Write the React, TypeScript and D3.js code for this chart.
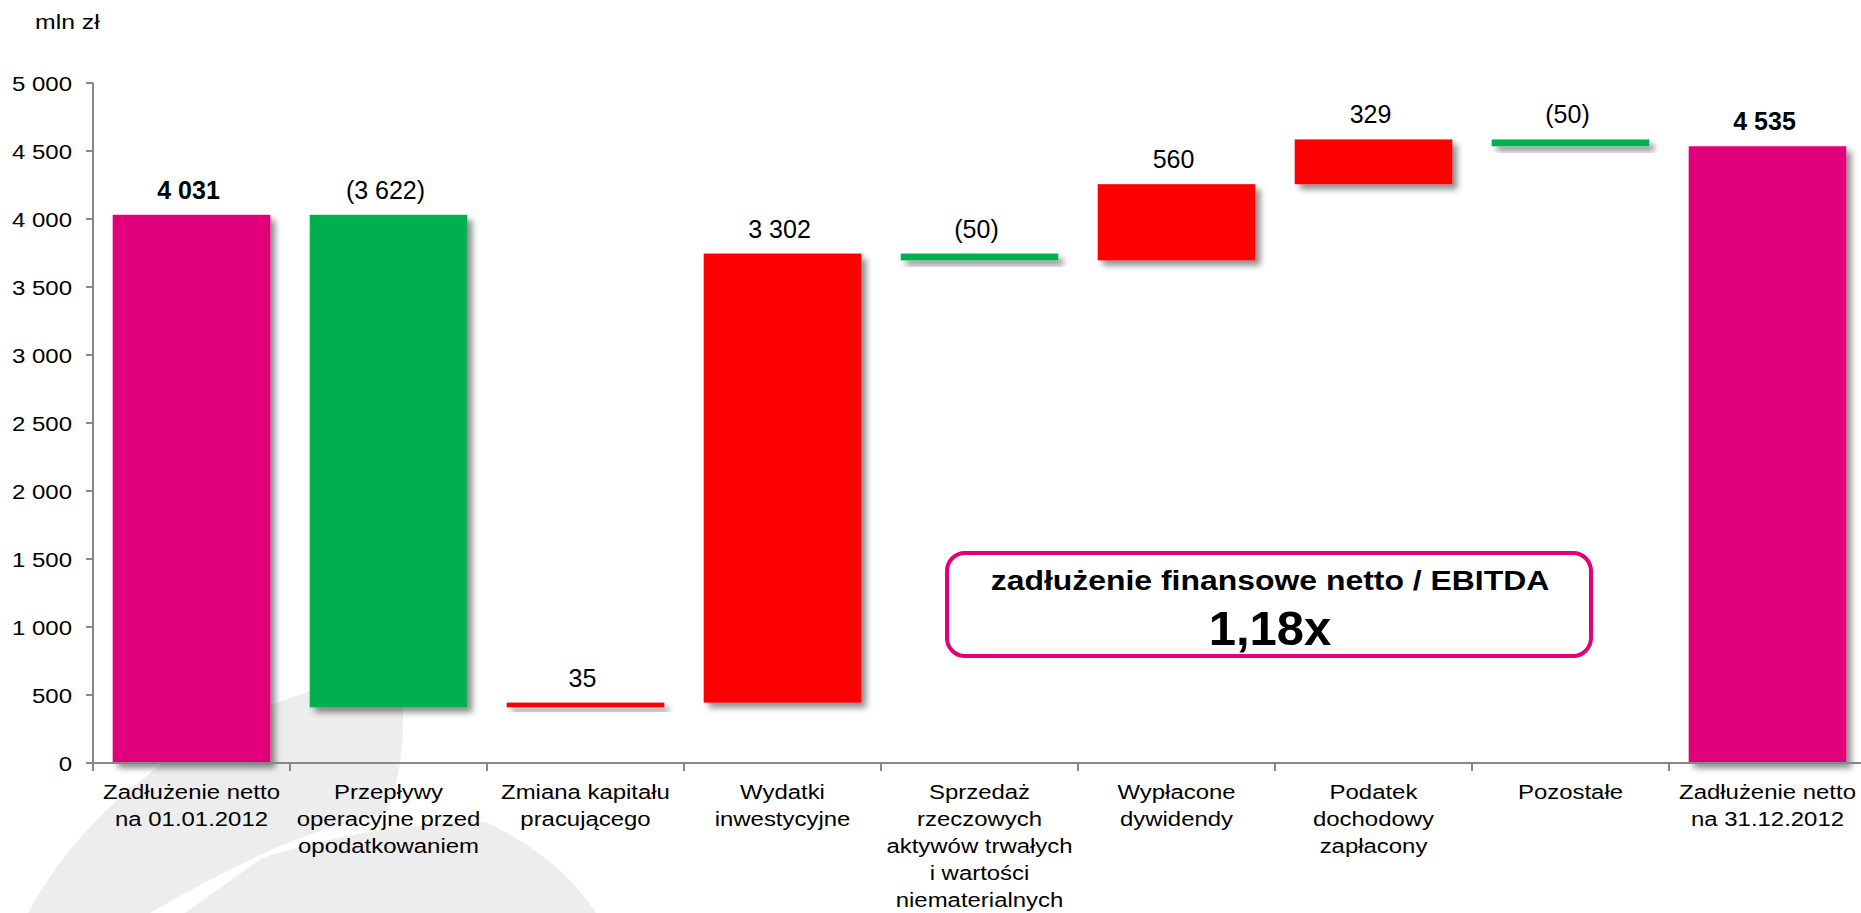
import * as d3 from 'd3';
import React, { useEffect, useRef } from 'react';

// category labels, one entry per bar, split into lines as on the slide
const categories: string[][] = [
  ['Zadłużenie netto', 'na 01.01.2012'],
  ['Przepływy', 'operacyjne przed', 'opodatkowaniem'],
  ['Zmiana kapitału', 'pracującego'],
  ['Wydatki', 'inwestycyjne'],
  ['Sprzedaż', 'rzeczowych', 'aktywów trwałych', 'i wartości', 'niematerialnych'],
  ['Wypłacone', 'dywidendy'],
  ['Podatek', 'dochodowy', 'zapłacony'],
  ['Pozostałe'],
  ['Zadłużenie netto', 'na 31.12.2012'],
];

const openingDebt = 4031;
const changes = [-3622, 35, 3302, -50, 560, 329, -50];
const closingDebt = 4535;

const yTicks = [0, 500, 1000, 1500, 2000, 2500, 3000, 3500, 4000, 4500, 5000];

const unitLabel = 'mln zł';
const ratioTitle = 'zadłużenie finansowe netto / EBITDA';
const ratioValue = '1,18x';

const W = 1861;
const H = 913;
const FONT = '"Liberation Sans", Arial, sans-serif';
const PINK = '#E2007A';
const GREEN = '#00B050';
const RED = '#FF0000';
const AXIS = '#878787';

const App: React.FC = () => {
  const svgRef = useRef(null);

  useEffect(() => {
    const svg = d3.select(svgRef.current);
    svg.selectAll('*').remove();

    // build waterfall steps
    let running = openingDebt;
    const steps = [{ kind: 'total', from: 0, to: openingDebt, value: openingDebt }];
    changes.forEach((c) => {
      steps.push({ kind: c < 0 ? 'down' : 'up', from: running, to: running + c, value: c });
      running += c;
    });
    steps.push({ kind: 'total', from: 0, to: closingDebt, value: closingDebt });

    const x = d3
      .scaleBand<number>()
      .domain(d3.range(steps.length))
      .range([93, 1866])
      .paddingInner(0.2)
      .paddingOuter(0.1);
    const step = x.step();
    const x0 = 93;

    const y = d3.scaleLinear().domain([0, 5000]).range([763, 83]);

    const num = (v: number) => d3.format(',')(Math.abs(v)).replace(/,/g, '\u00a0');
    const label = (v: number) => (v < 0 ? `(${num(v)})` : num(v));
    const color = (k: string) => (k === 'total' ? PINK : k === 'down' ? GREEN : RED);

    // shadow
    const defs = svg.append('defs');
    defs
      .append('filter')
      .attr('id', 'shadow')
      .attr('x', '-10%')
      .attr('y', '-10%')
      .attr('width', '130%')
      .attr('height', '200%')
      .append('feDropShadow')
      .attr('dx', 5)
      .attr('dy', 5)
      .attr('stdDeviation', 3)
      .attr('flood-color', '#000')
      .attr('flood-opacity', 0.45);

    svg.append('rect').attr('width', W).attr('height', H).attr('fill', '#fff');

    // watermark swoosh in the corner
    const wm = svg.append('g').attr('fill', '#EDEDED');
    wm.append('path').attr('d', 'M 28 913 C 95 790, 220 705, 400 666 C 406 720, 404 775, 385 815 C 320 825, 250 855, 150 913 Z');
    wm.append('path').attr('d', 'M 262 858 C 330 836, 410 822, 486 822 C 540 848, 575 880, 596 913 L 185 913 Z');

    // stretched text helper (the slide is widened horizontally)
    const stext = (g: any, tx: number, ty: number, sx: number, txt: string) =>
      g
        .append('text')
        .attr('transform', `translate(${tx},${ty}) scale(${sx},1)`)
        .text(txt);

    // unit label
    stext(svg, 35, 29, 1.18, unitLabel).attr('font-family', FONT).attr('font-size', 21).attr('fill', '#000');

    // y axis
    const ya = svg.append('g').attr('font-family', FONT).attr('font-size', 20.5).attr('fill', '#000');
    ya.append('line')
      .attr('x1', x0)
      .attr('x2', x0)
      .attr('y1', y(5000))
      .attr('y2', y(0))
      .attr('stroke', AXIS)
      .attr('stroke-width', 2);
    yTicks.forEach((t) => {
      ya.append('line')
        .attr('x1', x0 - 7)
        .attr('x2', x0)
        .attr('y1', y(t))
        .attr('y2', y(t))
        .attr('stroke', AXIS)
        .attr('stroke-width', 2);
      stext(ya, 72, y(t) + 7.5, 1.17, num(t)).attr('text-anchor', 'end');
    });

    // bars
    svg
      .append('g')
      .selectAll('rect')
      .data(steps)
      .enter()
      .append('rect')
      .attr('x', (_d, i) => x(i)!)
      .attr('width', x.bandwidth())
      .attr('y', (d) => y(Math.max(d.from, d.to)))
      .attr('height', (d) => Math.abs(y(d.from) - y(d.to)))
      .attr('fill', (d) => color(d.kind))
      .attr('filter', 'url(#shadow)');

    // x axis
    const xa = svg.append('g');
    xa.append('line')
      .attr('x1', x0)
      .attr('x2', W)
      .attr('y1', y(0))
      .attr('y2', y(0))
      .attr('stroke', AXIS)
      .attr('stroke-width', 2);
    d3.range(steps.length + 1).forEach((k) => {
      xa.append('line')
        .attr('x1', x0 + k * step)
        .attr('x2', x0 + k * step)
        .attr('y1', y(0))
        .attr('y2', y(0) + 8)
        .attr('stroke', AXIS)
        .attr('stroke-width', 2);
    });

    // category labels
    const cl = svg.append('g').attr('font-family', FONT).attr('font-size', 21).attr('fill', '#000');
    categories.forEach((lines, i) => {
      const cx = x(i)! + x.bandwidth() / 2;
      lines.forEach((ln, j) => {
        stext(cl, cx, 799 + j * 27.1, 1.14, ln).attr('text-anchor', 'middle');
      });
    });

    // value labels
    svg
      .append('g')
      .attr('font-family', FONT)
      .attr('font-size', 25)
      .attr('fill', '#000')
      .attr('text-anchor', 'middle')
      .selectAll('text')
      .data(steps)
      .enter()
      .append('text')
      .attr('x', (_d, i) => x(i)! + x.bandwidth() / 2 - 3)
      .attr('y', (d) => y(Math.max(d.from, d.to)) - 16)
      .attr('font-weight', (d) => (d.kind === 'total' ? 'bold' : 'normal'))
      .text((d) => label(d.value));

    // ratio callout
    const box = svg.append('g').attr('font-family', FONT).attr('font-weight', 'bold').attr('fill', '#000');
    box.append('rect')
      .attr('x', 947)
      .attr('y', 553)
      .attr('width', 644)
      .attr('height', 103)
      .attr('rx', 18)
      .attr('fill', '#fff')
      .attr('stroke', PINK)
      .attr('stroke-width', 4);
    stext(box, 1270, 590, 1.14, ratioTitle).attr('font-size', 28).attr('text-anchor', 'middle');
    box.append('text')
      .attr('x', 1270)
      .attr('y', 645)
      .attr('font-size', 49)
      .attr('text-anchor', 'middle')
      .text(ratioValue);
  }, []);

  return <svg ref={svgRef} width={W} height={H} style={{ position: 'absolute', left: 0, top: 0, display: 'block' }} />;
};

export default App;
